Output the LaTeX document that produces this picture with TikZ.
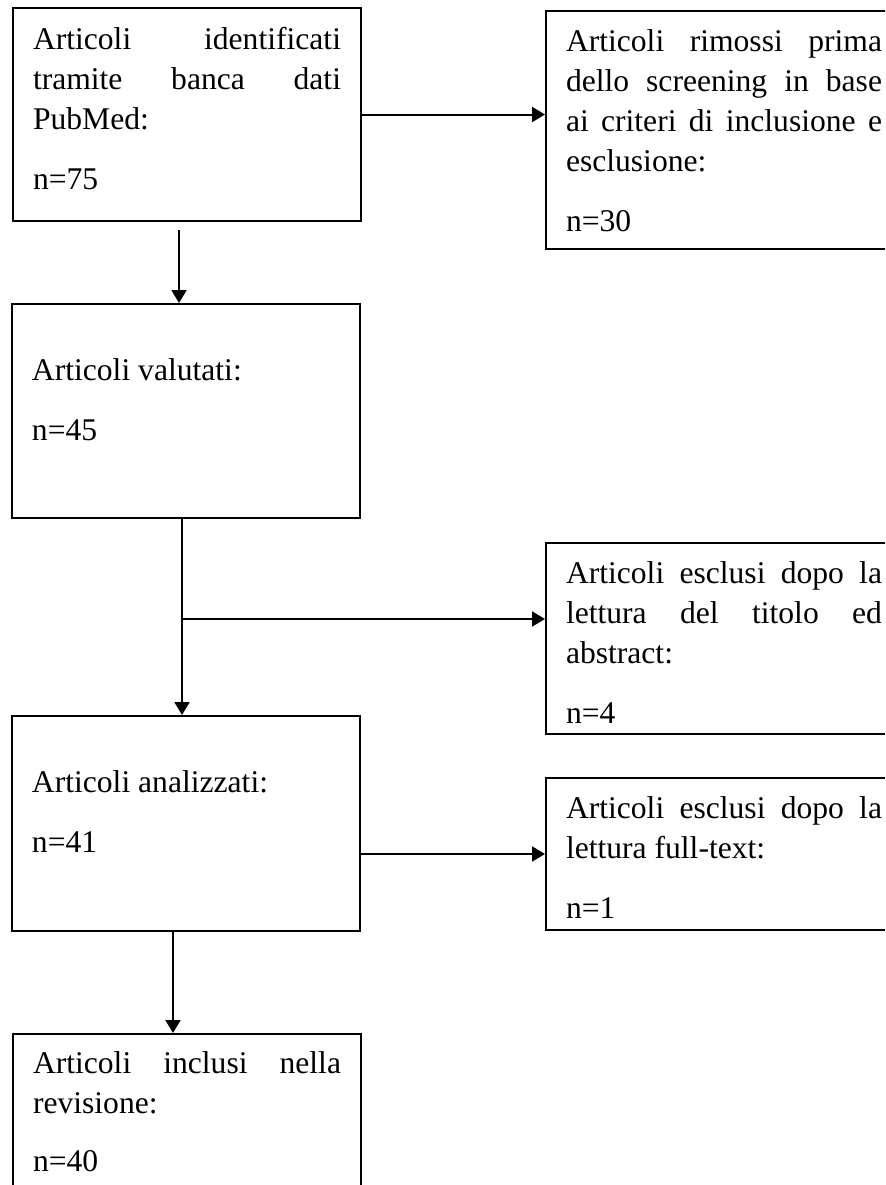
\documentclass[tikz,border=0pt]{standalone}
\usepackage{fontspec}
\setmainfont{Liberation Serif}
\usetikzlibrary{arrows.meta}
\newcommand{\celltext}[4]{%
  \begin{minipage}[t][#2][t]{#1}\vspace*{#3}#4\end{minipage}}

\begin{document}
\begin{tikzpicture}[
  x=0.5pt, y=-0.5pt,
  >={Triangle[length=6.5pt,width=7.5pt]},
  line width=1pt,
  every node/.style={font=\fontsize{15.8pt}{20pt}\selectfont},
  box/.style={draw, anchor=north west, inner xsep=10pt, inner ysep=0pt}
]
  \def\lw{154pt}
  \def\rw{158pt}
  \path[use as bounding box, clip] (0,0) rectangle (885,1185);
  % left column
  \node[box] (ident) at (12,7) {\celltext{\lw}{106.5pt}{9.5pt}{%
    Articoli identificati\linebreak tramite banca dati\linebreak PubMed:\\[10pt]
    n=75}};
  \node[box] (valutati) at (11,303) {\celltext{\lw}{107pt}{27.5pt}{%
    Articoli valutati:\\[10pt]
    n=45}};
  \node[box] (analizzati) at (11,715) {\celltext{\lw}{107.5pt}{27.5pt}{%
    Articoli analizzati:\\[10pt]
    n=41}};
  \node[box] (inclusi) at (12,1033) {\celltext{\lw}{100pt}{9pt}{%
    Articoli inclusi nella\linebreak revisione:\\[9pt]
    n=40}};
  % right column
  \node[box] (rimossi) at (545,10) {\celltext{\rw}{119pt}{9.5pt}{%
    Articoli rimossi prima\linebreak dello screening in base\linebreak
    ai criteri di inclusione e\linebreak esclusione:\\[10pt]
    n=30}};
  \node[box] (esclusiTA) at (545,542) {\celltext{\rw}{95.5pt}{9.5pt}{%
    Articoli esclusi dopo la\linebreak lettura del titolo ed\linebreak
    abstract:\\[10pt]
    n=4}};
  \node[box] (esclusiFT) at (545,777) {\celltext{\rw}{76pt}{9.5pt}{%
    Articoli esclusi dopo la\linebreak lettura full-text:\\[10pt]
    n=1}};
  % connectors
  \coordinate (a1) at ([shift={(-8,8)}]ident.south);
  \coordinate (a2) at ([xshift=-2pt]valutati.south);
  \coordinate (a3) at ([xshift=-6.5pt]analizzati.south);
  \path (a2) ++(0,100) coordinate (split);
  \draw[->] (ident.east) -- (ident.east -| rimossi.west);
  \draw[->] (a1) -- (a1 |- valutati.north);
  \draw[->] (a2) -- (a2 |- analizzati.north);
  \draw[->] (split) -- (split -| esclusiTA.west);
  \draw[->] (analizzati.east |- esclusiFT.west) -- (esclusiFT.west);
  \draw[->] (a3) -- (a3 |- inclusi.north);
\end{tikzpicture}
\end{document}
